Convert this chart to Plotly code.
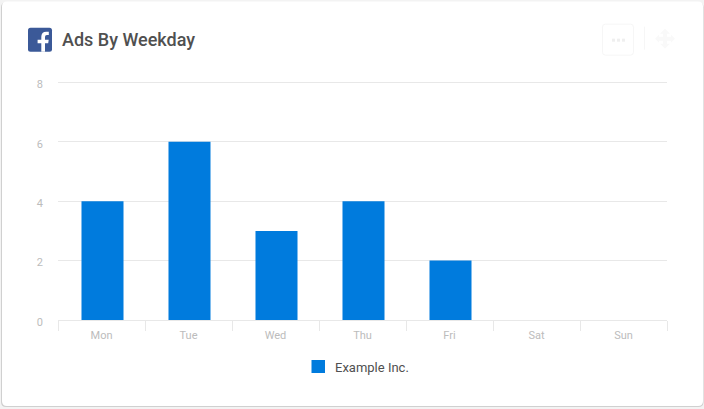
import plotly.graph_objects as go

W = 704
H = 409

weekdays = ["Mon", "Tue", "Wed", "Thu", "Fri", "Sat", "Sun"]
ads_count = [4, 6, 3, 4, 2, 0, 0]
series_name = "Example Inc."
y_ticks = [0, 2, 4, 6, 8]

BAR_BLUE = "#007bdd"
LINE_GREY = "#e8e8e8"
LABEL_GREY = "#bcbcbc"
TEXT_GREY = "#505050"

PLOT_TOP = 81.3
PLOT_BOTTOM = 320


def pts(cmds):
    # pixel coords from the top left of the page -> paper coords of the plot area
    out = []
    for c in cmds:
        if isinstance(c, str):
            out.append(c)
        else:
            out.append(f"{(c[0] - 58) / 609:.5f},{(PLOT_BOTTOM - c[1]) / (PLOT_BOTTOM - PLOT_TOP):.5f}")
    return " ".join(out)


def round_rect(x0, y0, x1, y1, r):
    return pts([
        "M", (x0 + r, y0), "L", (x1 - r, y0), "Q", (x1, y0), (x1, y0 + r),
        "L", (x1, y1 - r), "Q", (x1, y1), (x1 - r, y1),
        "L", (x0 + r, y1), "Q", (x0, y1), (x0, y1 - r),
        "L", (x0, y0 + r), "Q", (x0, y0), (x0 + r, y0), "Z",
    ])


def shape(path, fill="rgba(0,0,0,0)", line=None, width=0, layer="below"):
    return dict(type="path", xref="paper", yref="paper", path=path, fillcolor=fill,
                line=dict(color=line or "rgba(0,0,0,0)", width=width), layer=layer)


def label(text, px, py, size, color, weight=400):
    return dict(text=text, xref="paper", yref="paper", x=(px - 58) / 609,
                y=(PLOT_BOTTOM - py) / (PLOT_BOTTOM - PLOT_TOP),
                xanchor="left", yanchor="middle", showarrow=False, borderpad=0, borderwidth=0,
                font=dict(size=size, color=color, family="Roboto", weight=weight))


shapes = [
    # card and its shadow
    shape(round_rect(1, 3, 703.5, 407, 5), "#d0d0d0"),
    shape(round_rect(2, 2, 703, 406, 5), "#ffffff"),
    # facebook icon
    shape(round_rect(28, 28, 52, 52, 2.5), "#3b5998"),
    shape(pts([
        "M", (41.3, 52), "L", (41.3, 43.6), "L", (37.6, 43.6), "L", (37.6, 40.2), "L", (41.3, 40.2),
        "L", (41.3, 37.2), "Q", (41.3, 32), (46.3, 32), "L", (48.8, 32.2), "L", (48.8, 35.4), "L", (46.9, 35.4),
        "Q", (45, 35.4), (45, 37.4), "L", (45, 40.2), "L", (48.7, 40.2), "L", (48.2, 43.6), "L", (45, 43.6),
        "L", (45, 52), "Z",
    ]), "#ffffff"),
    # faint menu button, divider, move icon
    shape(round_rect(602.5, 24.5, 633.5, 55.5, 3), "#ffffff", "#f6f6f6", 1),
    shape(pts(["M", (644.5, 27), "L", (644.5, 50)]), line="#f6f6f6", width=1),
    shape(pts(["M", (612, 39), "L", (615, 39), "L", (615, 42), "L", (612, 42), "Z"]), "#efefef"),
    shape(pts(["M", (617, 39), "L", (620, 39), "L", (620, 42), "L", (617, 42), "Z"]), "#efefef"),
    shape(pts(["M", (622, 39), "L", (625, 39), "L", (625, 42), "L", (622, 42), "Z"]), "#efefef"),
    shape(pts([
        "M", (665, 29), "L", (670, 34), "L", (667, 34), "L", (667, 37), "L", (671, 37), "L", (671, 35),
        "L", (675, 39), "L", (671, 43), "L", (671, 41), "L", (667, 41), "L", (667, 44), "L", (670, 44),
        "L", (665, 49), "L", (660, 44), "L", (663, 44), "L", (663, 41), "L", (659, 41), "L", (659, 43),
        "L", (655, 39), "L", (659, 35), "L", (659, 37), "L", (663, 37), "L", (663, 34), "L", (660, 34), "Z",
    ]), "#f9f9f9"),
    # legend swatch
    shape(round_rect(311.5, 360, 325, 373, 0), BAR_BLUE),
]

fig = go.Figure()
fig.add_trace(go.Bar(x=weekdays, y=ads_count, name=series_name, width=0.483, offset=-0.23,
                     marker=dict(color=BAR_BLUE, line_width=0)))

fig.update_layout(
    width=W,
    height=H,
    autosize=False,
    margin=dict(l=58, r=37, t=PLOT_TOP, b=H - PLOT_BOTTOM, pad=0),
    paper_bgcolor="#f3f3f3",
    plot_bgcolor="rgba(0,0,0,0)",
    font=dict(family="Roboto"),
    showlegend=False,
    shapes=shapes,
    annotations=[
        label("Ads By Weekday", 62, 40, 18, TEXT_GREY, 500),
        label(series_name, 335, 367.5, 13, TEXT_GREY),
    ],
)
fig.update_xaxes(
    type="category",
    tickson="boundaries",
    ticks="outside",
    ticklen=10,
    tickwidth=1,
    tickcolor=LINE_GREY,
    tickfont=dict(size=11, color=LABEL_GREY),
    ticklabelstandoff=5,
    showline=True,
    linecolor=LINE_GREY,
    linewidth=1,
    showgrid=False,
    fixedrange=True,
)
fig.update_yaxes(
    range=[0, 8.05],
    tickmode="array",
    tickvals=y_ticks,
    ticktext=[str(v) for v in y_ticks],
    tickfont=dict(size=11, color=LABEL_GREY),
    ticklabelstandoff=14,
    ticklabelshift=2,
    gridcolor=LINE_GREY,
    gridwidth=1,
    zeroline=False,
    showline=False,
    ticks="",
    fixedrange=True,
)

fig.write_html("out.html", config={"displayModeBar": False},
               post_script="document.body.style.margin='0';document.body.style.overflow='hidden';")
